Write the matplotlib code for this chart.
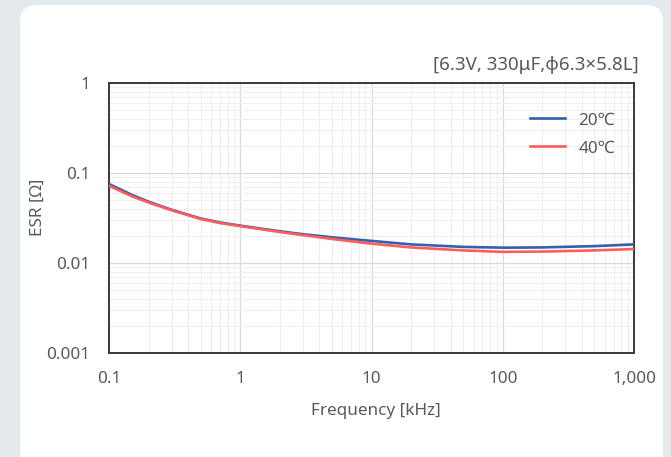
import numpy as np
import matplotlib.pyplot as plt
from matplotlib.patches import FancyBboxPatch
from matplotlib.ticker import FixedLocator, LogLocator, NullFormatter

# ESR vs frequency
freq_khz = [0.1, 0.15, 0.2, 0.3, 0.5, 0.7, 1, 2, 3, 5, 10, 20, 50, 100, 200, 500, 1000]
esr_20c = [0.0755, 0.057, 0.048, 0.039, 0.0312, 0.0282, 0.026, 0.0225, 0.0209, 0.0193,
           0.0176, 0.0161, 0.0151, 0.0148, 0.0149, 0.0154, 0.0161]
esr_40c = [0.072, 0.055, 0.047, 0.0385, 0.0308, 0.0278, 0.0257, 0.0221, 0.0204, 0.0185,
           0.0164, 0.0149, 0.0138, 0.0133, 0.0134, 0.0138, 0.0143]
series_labels = ["20\u2103", "40\u2103"]
x_ticks = [0.1, 1, 10, 100, 1000]
x_ticklabels = ["0.1", "1", "10", "100", "1,000"]
y_ticks = [0.001, 0.01, 0.1, 1]
y_ticklabels = ["0.001", "0.01", "0.1", "1"]
title = "[6.3V, 330\u03bcF,\u03c66.3\u00d75.8L]"

plt.rcParams['font.family'] = ['Noto Sans', 'DejaVu Sans']
text_color = "#595959"
fs = 12.3

W, H = 671, 457
fig = plt.figure(figsize=(W / 100, H / 100), dpi=100, facecolor="#e4e9ee")

# white card behind the chart
card = FancyBboxPatch((20 / W, -20 / H), 643 / W, (H - 5 + 20) / H,
                      boxstyle="round,pad=0,rounding_size=0.025",
                      transform=fig.transFigure, facecolor="white",
                      edgecolor="none", mutation_aspect=W / H, zorder=-10)
fig.patches.append(card)

ax = fig.add_axes([109 / W, 1 - 353 / H, 525 / W, 270 / H])
ax.set_zorder(1)
ax.set_facecolor("white")
ax.set_xscale("log")
ax.set_yscale("log")

ax.plot(freq_khz, esr_20c, color="#3160b0", lw=1.9, label=series_labels[0], zorder=3)
ax.plot(freq_khz, esr_40c, color="#ff5c5c", lw=1.9, label=series_labels[1], zorder=4)

ax.set_xlim(0.1, 1000)
ax.set_ylim(0.001, 1)
ax.xaxis.set_major_locator(FixedLocator(x_ticks))
ax.yaxis.set_major_locator(FixedLocator(y_ticks))
ax.set_xticklabels(x_ticklabels)
ax.set_yticklabels(y_ticklabels)
ax.xaxis.set_minor_locator(LogLocator(base=10, subs=np.arange(2, 10)))
ax.yaxis.set_minor_locator(LogLocator(base=10, subs=np.arange(2, 10)))
ax.xaxis.set_minor_formatter(NullFormatter())
ax.yaxis.set_minor_formatter(NullFormatter())

ax.grid(which="major", color="#dadada", lw=0.9)
ax.grid(which="minor", color="#efefef", lw=0.8)
ax.set_axisbelow(True)

ax.tick_params(which="both", length=0, labelsize=fs, labelcolor=text_color)
ax.tick_params(axis="x", pad=13)
ax.tick_params(axis="y", pad=13.5)

for s in ax.spines.values():
    s.set_color("#3a3a3a")
    s.set_linewidth(1.4)

ax.set_xlabel("Frequency [kHz]", fontsize=fs, color=text_color)
ax.xaxis.set_label_coords(376 / 525 - 109 / 525, -(411 - 353) / 270)
ax.set_ylabel("ESR [\u03a9]", fontsize=fs, color=text_color)
ax.yaxis.set_label_coords(-(109 - 38) / 525, (353 - 207) / 270)
ax.xaxis.label.set_va("center")
ax.yaxis.label.set_va("center")

fig.text(639 / W, 1 - 65 / H, title, ha="right", va="center",
         fontsize=13.5, color=text_color)

leg = ax.legend(loc="upper right", frameon=False, fontsize=fs,
                labelcolor=text_color, handlelength=2.1, handletextpad=0.75,
                labelspacing=0.7, bbox_to_anchor=(0.993, 0.948))

fig.savefig("out.png", dpi=100, facecolor=fig.get_facecolor())
